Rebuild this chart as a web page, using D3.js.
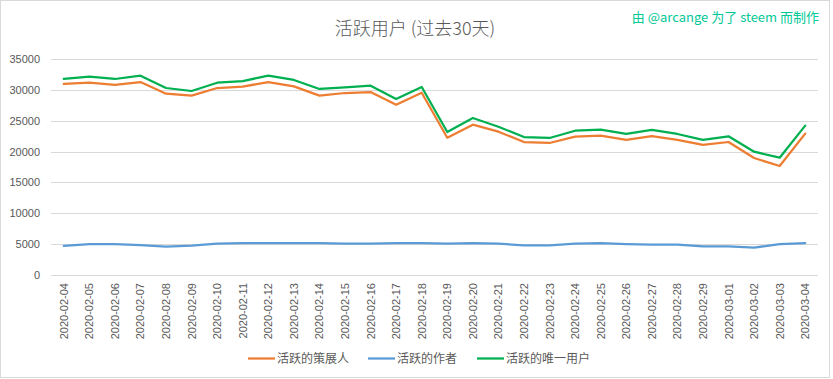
<!DOCTYPE html>
<html><head><meta charset="utf-8">
<script src="https://cdn.jsdelivr.net/npm/d3@7"></script>
<style>body{margin:0;background:#fff;}svg{display:block;}</style>
</head><body><svg id="c" width="833" height="379"></svg>
<script>
const dates = ["2020-02-04","2020-02-05","2020-02-06","2020-02-07","2020-02-08","2020-02-09","2020-02-10","2020-02-11","2020-02-12","2020-02-13","2020-02-14","2020-02-15","2020-02-16","2020-02-17","2020-02-18","2020-02-19","2020-02-20","2020-02-21","2020-02-22","2020-02-23","2020-02-24","2020-02-25","2020-02-26","2020-02-27","2020-02-28","2020-02-29","2020-03-01","2020-03-02","2020-03-03","2020-03-04"];
const curators = [30950,31160,30790,31270,29380,29060,30300,30520,31270,30570,29060,29490,29650,27600,29540,22250,24360,23220,21550,21390,22410,22570,21880,22520,21880,21070,21550,18960,17660,22900];
const authors = [4700,5020,5020,4860,4590,4750,5075,5185,5185,5185,5185,5075,5075,5185,5185,5075,5185,5075,4810,4810,5075,5185,5020,4920,4920,4650,4650,4430,5020,5185];
const uniques = [31760,32130,31760,32300,30300,29815,31160,31430,32300,31600,30140,30410,30680,28520,30460,23170,25440,24030,22360,22200,23380,23550,22850,23500,22850,21880,22470,19980,19010,24200];
const yTicks = [0,5000,10000,15000,20000,25000,30000,35000];
const seriesNames = ["活跃的策展人","活跃的作者","活跃的唯一用户"];
const colors = ["#ED7D31","#5B9BD5","#00B050"];
const title = "活跃用户 (过去30天)";
const watermark = "由 @arcange 为了 steem 而制作";

const svg = d3.select("#c");
const cjk = "'Noto Sans CJK SC','Noto Sans',sans-serif";
const lat = "'Liberation Sans','DejaVu Sans',sans-serif";

svg.append("rect").attr("x",0.5).attr("y",0.5).attr("width",829).attr("height",377)
  .attr("fill","#fff").attr("stroke","#d9d9d9");

const x = d3.scaleBand().domain(dates).range([51,818]);
const y = d3.scaleLinear().domain([0,35000]).range([275,59]);

// gridlines
svg.append("g").selectAll("line").data(yTicks).join("line")
  .attr("x1",51).attr("x2",818).attr("y1",d=>Math.round(y(d))+0.5).attr("y2",d=>Math.round(y(d))+0.5)
  .attr("stroke","#d9d9d9").attr("stroke-width",1);

// y axis
const yAxis = svg.append("g").attr("transform","translate(40,0)")
  .call(d3.axisLeft(y).tickValues(yTicks).tickSize(0).tickPadding(0).tickFormat(d3.format("d")));
yAxis.select(".domain").remove();
yAxis.selectAll("text").attr("fill","#595959").style("font-family",lat).style("font-size","11px");

// x axis
const xAxis = svg.append("g").attr("transform","translate(0,275)")
  .call(d3.axisBottom(x).tickSize(0).tickPadding(0));
xAxis.select(".domain").remove();
xAxis.selectAll("text")
  .attr("fill","#595959").style("font-family",lat).style("font-size","11px")
  .attr("text-anchor","end").attr("dy",null).attr("y",0)
  .attr("transform","translate(4,8) rotate(-90)");

const line = d3.line().x((d,i)=>x(dates[i])+x.bandwidth()/2).y(d=>y(d));
const series = [curators, authors, uniques];
series.forEach((s,k)=>{
  svg.append("path").datum(s).attr("d",line).attr("fill","none")
    .attr("stroke",colors[k]).attr("stroke-width",2.25).attr("stroke-linejoin","round").attr("stroke-linecap","round");
});

// title
svg.append("text").attr("x",415).attr("y",35).attr("text-anchor","middle")
  .attr("fill","#595959").style("font-family",cjk).style("font-size","18px").style("font-weight","300").text(title);

// watermark
svg.append("text").attr("x",819).attr("y",22).attr("text-anchor","end")
  .attr("fill","#00C896").style("font-family",cjk).style("font-size","13px").text(watermark);

// legend
const legX = [248,368,477];
seriesNames.forEach((n,k)=>{
  svg.append("line").attr("x1",legX[k]).attr("x2",legX[k]+27).attr("y1",358.5).attr("y2",358.5)
    .attr("stroke",colors[k]).attr("stroke-width",2.25);
  svg.append("text").attr("x",legX[k]+29).attr("y",363).attr("fill","#595959")
    .style("font-family",cjk).style("font-size","12px").text(n);
});
</script></body></html>
